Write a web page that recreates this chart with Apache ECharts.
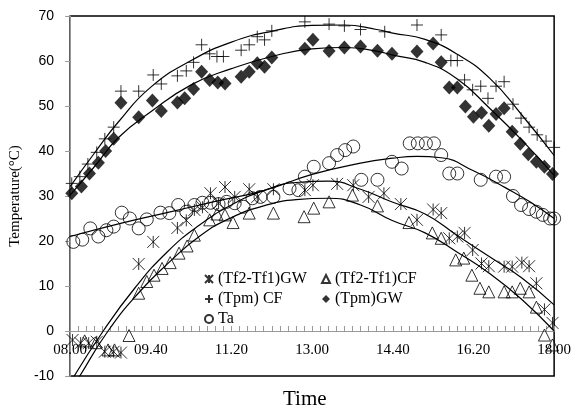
<!DOCTYPE html>
<html><head><meta charset="utf-8">
<script src="https://cdn.jsdelivr.net/npm/echarts@6/dist/echarts.min.js"></script>
<style>html,body{margin:0;padding:0;background:#fff}#c{width:574px;height:417px}</style>
</head><body><div id="c"></div>
<script>
// time in minutes since midnight
const xTickMinutes = [480, 580, 680, 780, 880, 980, 1080];
const xTickLabels = ['08.00', '09.40', '11.20', '13.00', '14.40', '16.20', '18.00'];

const gwDiff = [[483,-2.0],[493,-2.7],[503,-2.7],[513,-2.4],[523,-4.6],[534,-4.6],[543,-4.8],[565,14.9],[583,19.8],[613,22.9],[624,24.6],[634,26.9],[644,27.5],[654,30.6],[664,28.4],[672,32.0],[684,29.8],[702,31.5],[712,29.8],[732,31.5],[771,31.3],[781,32.4],[811,32.7],[831,32.4],[850,29.8],[869,30.6],[890,28.2],[910,24.7],[930,27.0],[940,26.2],[950,20.6],[960,21.0],[969,21.8],[979,18.0],[990,15.0],[999,14.4],[1018,14.3],[1028,14.3],[1040,15.2],[1049,14.4],[1058,10.6],[1068,4.8],[1078,1.8]];
const cfDiff = [[498,-2.2],[512,-2.6],[527,-4.2],[535,-4.2],[553,-1.0],[565,8.4],[575,11.0],[584,12.4],[594,13.9],[604,15.2],[615,17.3],[625,18.9],[634,21.3],[653,24.7],[662,26.0],[672,25.8],[682,24.1],[702,26.2],[732,26.2],[770,25.4],[782,27.3],[801,28.7],[830,30.2],[861,27.8],[900,24.1],[929,21.8],[940,20.6],[958,15.8],[968,16.2],[978,12.4],[988,9.5],[999,8.7],[1018,8.7],[1028,8.7],[1038,9.5],[1049,8.7],[1058,5.3],[1068,-0.9],[1078,-3.1]];
const tpmCF = [[482,32.8],[492,34.3],[502,37.1],[513,39.7],[523,42.7],[534,45.3],[543,53.3],[565,53.3],[583,56.9],[593,54.9],[613,56.7],[624,57.8],[633,59.7],[643,63.6],[653,61.6],[662,61.0],[670,61.0],[692,62.4],[702,63.6],[712,65.4],[721,64.7],[730,66.7],[771,68.7],[801,68.2],[820,67.8],[840,67.0],[870,66.5],[910,68.0],[940,65.8],[952,60.1],[960,60.1],[969,55.8],[979,53.6],[989,54.4],[998,51.7],[1008,54.4],[1018,55.4],[1029,50.4],[1039,47.3],[1049,45.3],[1059,43.6],[1070,42.2],[1080,40.8]];
const tpmGW = [[482,30.6],[494,32.1],[504,35.0],[515,37.4],[524,40.0],[534,42.7],[543,50.7],[565,47.5],[582,51.2],[593,48.9],[613,50.8],[622,51.7],[633,53.8],[643,57.6],[653,55.8],[663,55.2],[672,55.0],[692,56.5],[702,57.6],[712,59.5],[721,58.7],[730,60.8],[771,62.7],[781,64.7],[801,62.2],[820,63.0],[840,63.2],[861,62.3],[879,61.6],[910,62.1],[930,63.9],[940,59.7],[950,54.1],[960,54.1],[970,49.9],[980,47.6],[990,48.5],[999,45.6],[1008,48.2],[1018,49.5],[1028,44.3],[1038,41.6],[1048,39.3],[1058,37.6],[1068,36.5],[1078,34.9]];
const ta = [[484,19.8],[495,20.3],[505,22.8],[515,21.0],[525,22.4],[534,23.2],[544,26.3],[554,25.0],[565,22.8],[575,24.8],[592,26.3],[603,26.2],[614,28.0],[624,26.5],[634,28.0],[644,28.5],[654,28.5],[664,28.2],[674,28.7],[684,28.4],[695,27.6],[706,29.5],[716,29.8],[732,29.8],[752,31.7],[763,31.3],[771,34.3],[782,36.5],[801,37.3],[811,39.1],[821,40.2],[831,41.0],[841,33.6],[861,33.6],[879,37.6],[891,36.1],[901,41.7],[911,41.7],[921,41.7],[931,41.7],[940,39.1],[950,35.0],[960,35.0],[989,33.6],[1008,34.3],[1018,34.3],[1029,30.0],[1039,28.0],[1049,27.1],[1058,26.5],[1066,25.8],[1075,25.0],[1080,25.0]];

// trend lines
const gwDiffTrend = [[480,-11.5],[521,0],[560,9.5],[600,17.5],[640,23.5],[680,28.0],[720,31.2],[760,33.0],[800,33.3],[840,31.5],[880,28.6],[920,26.0],[960,21.2],[1000,16.5],[1040,11.8],[1080,5.8]];
const cfDiffTrend = [[480,-13.5],[492,-10],[527,0],[565,8.5],[600,14.8],[640,21.0],[680,25.2],[720,27.8],[760,29.2],[800,29.5],[840,28.0],[880,24.5],[920,21.8],[960,17.5],[1000,12.8],[1040,7.0],[1080,0.0]];
const tpmCFTrend = [[480,32.1],[510,39.5],[540,46.5],[580,54.2],[630,60.1],[680,64.2],[730,66.6],[780,67.9],[820,68.0],[860,67.0],[880,66.2],[920,64.8],[960,61.5],[1000,56.2],[1040,48.0],[1080,39.0]];
const tpmGWTrend = [[480,30.2],[510,36.5],[540,43.0],[580,48.7],[630,54.7],[680,58.3],[730,61.0],[780,62.7],[820,63.0],[860,62.2],[880,61.3],[920,59.7],[960,56.0],[1000,49.5],[1040,42.4],[1080,34.6]];
const taTrend = [[480,21.0],[540,23.8],[600,26.3],[660,28.8],[720,31.2],[780,34.8],[840,37.3],[880,38.4],[910,38.8],[940,38.5],[980,35.6],[1020,31.8],[1050,28.7],[1080,25.0]];

const names = ['(Tf2-Tf1)GW', '(Tf2-Tf1)CF', '(Tpm) CF', '(Tpm)GW', 'Ta'];

const ASTER = 'path://M0,0L10,10M10,0L0,10M5,0L5,10';
const PLUS = 'path://M5,0L5,10M0,5L10,5';
const openStyle = {color: 'rgba(0,0,0,0)', borderColor: '#000', borderWidth: 1};

function trend(d) {
  return {type: 'line', data: d, smooth: true, showSymbol: false, silent: true,
    lineStyle: {color: '#000', width: 1.2}, z: 1};
}
function scatter(name, d, symbol, size, style) {
  return {type: 'scatter', name: name, data: d, symbol: symbol, symbolSize: size,
    itemStyle: style, z: 3};
}

const legendText = {fontFamily: 'Liberation Serif', fontSize: 16, color: '#000', lineHeight: 16};
const chart = echarts.init(document.getElementById('c'), null, {renderer: 'canvas'});
chart.setOption({
  animation: false,
  backgroundColor: '#fff',
  grid: {left: 61, right: 14, top: 16, bottom: 41, show: true, borderColor: '#000', borderWidth: 1.5, containLabel: false},
  xAxis: {
    type: 'value', min: 480, max: 1080, interval: 10, position: 'bottom', offset: -45,
    axisLine: {onZero: false, lineStyle: {color: '#999', width: 1}},
    axisTick: {inside: true, length: 5, lineStyle: {color: '#999'}},
    splitLine: {show: false},
    axisLabel: {
      margin: 12, fontFamily: 'Liberation Serif', fontSize: 15, color: '#000',
      formatter: v => { const i = xTickMinutes.indexOf(v); return i >= 0 ? xTickLabels[i] : ''; }
    }
  },
  yAxis: {
    type: 'value', min: -10, max: 70, interval: 10,
    name: 'Temperature(°C)', nameLocation: 'middle', nameGap: 40,
    nameTextStyle: {fontFamily: 'Liberation Serif', fontSize: 15, color: '#000'},
    axisLine: {show: true, lineStyle: {color: '#999', width: 1}},
    axisTick: {show: true, length: 5, lineStyle: {color: '#999'}},
    splitLine: {show: false},
    axisLabel: {margin: 16, fontFamily: 'Liberation Sans', fontSize: 14, color: '#000'}
  },
  legend: [
    {data: [names[0], names[2], names[4]], orient: 'vertical', left: 199, top: 266,
      itemWidth: 8, itemHeight: 8, itemGap: 4, selectedMode: false, textStyle: legendText},
    {data: [names[1], names[3]], orient: 'vertical', left: 316, top: 266,
      itemWidth: 8, itemHeight: 8, itemGap: 4, selectedMode: false, textStyle: legendText}
  ],
  graphic: [{type: 'text', left: 283, top: 389,
    style: {text: 'Time', font: '21px "Liberation Serif"', fill: '#000'}}],
  series: [
    trend(gwDiffTrend), trend(cfDiffTrend), trend(tpmCFTrend), trend(tpmGWTrend), trend(taTrend),
    scatter(names[0], gwDiff, ASTER, 12, openStyle),
    scatter(names[1], cfDiff, 'triangle', 12, openStyle),
    scatter(names[2], tpmCF, PLUS, 12, openStyle),
    scatter(names[3], tpmGW, 'diamond', [13, 14], {color: '#000'}),
    scatter(names[4], ta, 'circle', 13, openStyle)
  ]
});
</script></body></html>
